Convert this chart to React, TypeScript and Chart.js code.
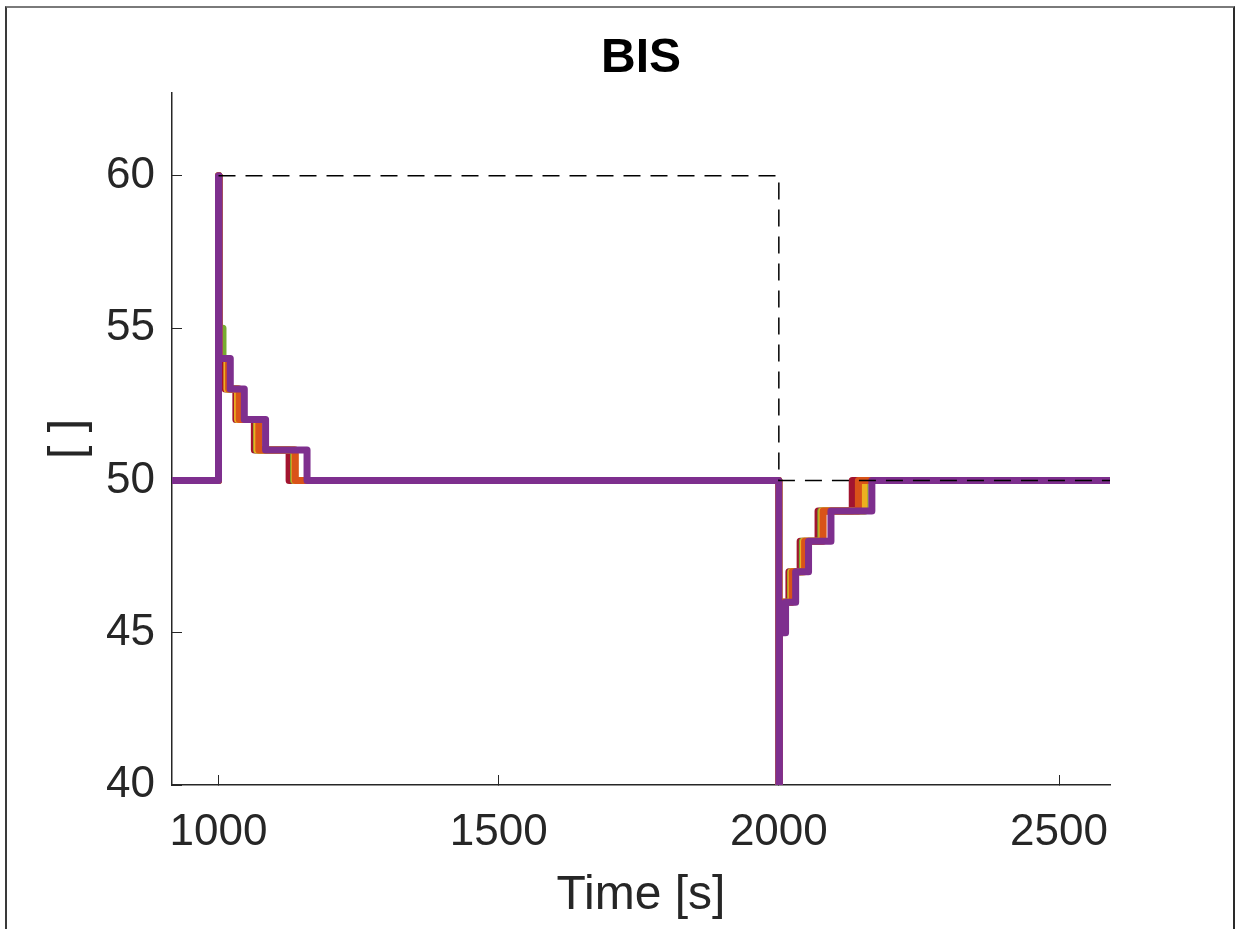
import React, { useEffect, useRef } from "react";
import { Chart, registerables } from "chart.js";

Chart.register(...registerables);

// Axis ticks and limits
const xTicks = [1000, 1500, 2000, 2500];
const yTicks = [40, 45, 50, 55, 60];
const xMin = 917;
const xMax = 2591;
const yMin = 40;
const yMax = 62.72;

// Each run: times where BIS changes, and the value it changes to
const redT = [917, 1000, 1001, 1012, 1031, 1064, 1126, 2000, 2001, 2004, 2018, 2038, 2070, 2131, 2591];
const redV = [50, 60, 54, 53, 52, 51, 50, 40, 45, 46, 47, 48, 49, 50, 50];

const greenT = [917, 1000, 1001, 1008, 1016, 1035, 1068, 1134, 2000, 2001, 2005, 2021, 2042, 2075, 2154, 2591];
const greenV = [50, 60, 55, 54, 53, 52, 51, 50, 40, 45, 46, 47, 48, 49, 50, 50];

const yellowT = [917, 1000, 1001, 1015, 1034, 1069, 1136, 2000, 2001, 2005, 2022, 2044, 2077, 2152, 2591];
const yellowV = [50, 60, 54, 53, 52, 51, 50, 40, 45, 46, 47, 48, 49, 50, 50];

const orangeT = [917, 1000, 1001, 1018, 1037, 1072, 1137, 2000, 2001, 2006, 2024, 2046, 2079, 2142, 2591];
const orangeV = [50, 60, 54, 53, 52, 51, 50, 40, 45, 46, 47, 48, 49, 50, 50];

const purpleT = [917, 1000, 1001, 1021, 1046, 1084, 1158, 2000, 2001, 2012, 2030, 2053, 2093, 2166, 2591];
const purpleV = [50, 60, 54, 53, 52, 51, 50, 40, 45, 46, 47, 48, 49, 50, 50];

// Reference (target) signal
const refT = [1000, 2000, 2000, 2591];
const refV = [60, 60, 50, 50];

const FONT = "'Liberation Sans', Arial, Helvetica, sans-serif";
const AXIS = "#262626";

const pts = (t: number[], v: number[]) => t.map((x, i) => ({ x, y: v[i] }));

const run = (label: string, color: string, t: number[], v: number[], order: number) => ({
  label,
  data: pts(t, v),
  borderColor: color,
  backgroundColor: color,
  borderWidth: 7,
  pointRadius: 0,
  stepped: true,
  fill: false,
  borderJoinStyle: "round" as const,
  borderCapStyle: "butt" as const,
  order,
});

export default function App() {
  const ref = useRef<HTMLCanvasElement>(null);

  useEffect(() => {
    if (!ref.current) return;
    const chart = new Chart(ref.current, {
      type: "line",
      data: {
        datasets: [
          {
            label: "Reference",
            data: pts(refT, refV),
            borderColor: "#000000",
            borderWidth: 1.5,
            borderDash: [17, 10],
            pointRadius: 0,
            fill: false,
            order: 0,
          },
          run("Run 5", "#7E2F8E", purpleT, purpleV, 1),
          run("Run 4", "#D95319", orangeT, orangeV, 2),
          run("Run 3", "#EDB120", yellowT, yellowV, 3),
          run("Run 2", "#77AC30", greenT, greenV, 4),
          run("Run 1", "#A2142F", redT, redV, 5),
        ] as any,
      },
      options: {
        responsive: false,
        animation: false,
        parsing: false,
        layout: { padding: { left: 0, right: 127, top: 0, bottom: 0 } },
        plugins: {
          legend: { display: false },
          tooltip: { enabled: false },
          title: {
            display: true,
            fullSize: false,
            text: "BIS",
            color: "#000000",
            font: { family: FONT, size: 48, weight: "bold", lineHeight: 1.2 },
            padding: { top: 29.8, bottom: 5.6 },
          },
        },
        scales: {
          x: {
            type: "linear",
            min: xMin,
            max: xMax,
            afterBuildTicks: (s: any) => {
              s.ticks = xTicks.map((value) => ({ value }));
            },
            afterFit: (s: any) => {
              s.height = 144;
            },
            ticks: {
              autoSkip: false,
              maxRotation: 0,
              padding: 31,
              color: AXIS,
              font: { family: FONT, size: 44, lineHeight: 1.2 },
              callback: (v: any) => String(v),
            },
            grid: {
              display: true,
              drawOnChartArea: false,
              drawTicks: true,
              tickLength: -10,
              tickColor: AXIS,
              tickWidth: 1,
            },
            border: { display: true, color: AXIS, width: 1.5 },
            title: {
              display: true,
              text: "Time [s]",
              color: AXIS,
              font: { family: FONT, size: 48, lineHeight: 1.2 },
              padding: { top: 0, bottom: 4.9 },
            },
          },
          y: {
            type: "linear",
            min: yMin,
            max: yMax,
            afterBuildTicks: (s: any) => {
              s.ticks = yTicks.map((value) => ({ value }));
            },
            afterFit: (s: any) => {
              s.width = 172;
            },
            ticks: {
              autoSkip: false,
              padding: 27,
              color: AXIS,
              font: { family: FONT, size: 44, lineHeight: 1.2 },
              callback: (v: any) => String(v),
            },
            grid: {
              display: true,
              drawOnChartArea: false,
              drawTicks: true,
              tickLength: -10,
              tickColor: AXIS,
              tickWidth: 1,
            },
            border: { display: true, color: AXIS, width: 1.5 },
            title: {
              display: true,
              text: "[ ]",
              color: AXIS,
              font: { family: FONT, size: 48, lineHeight: 1.2 },
              padding: { top: 40, bottom: 0 },
            },
          },
        },
      } as any,
    });
    return () => chart.destroy();
  }, []);

  return (
    <div style={{ position: "absolute", left: 0, top: 0, width: 1237, height: 929, background: "#ffffff", overflow: "hidden" }}>
      <canvas ref={ref} width={1237} height={929} style={{ display: "block", width: 1237, height: 929 }} />
      <div
        style={{
          position: "absolute",
          left: 5,
          top: 6,
          width: 1226,
          height: 940,
          borderTop: "2px solid #7a7a7a",
          borderLeft: "2px solid #3a3a3a",
          borderRight: "2px solid #2a2a2a",
          pointerEvents: "none",
        }}
      />
    </div>
  );
}
